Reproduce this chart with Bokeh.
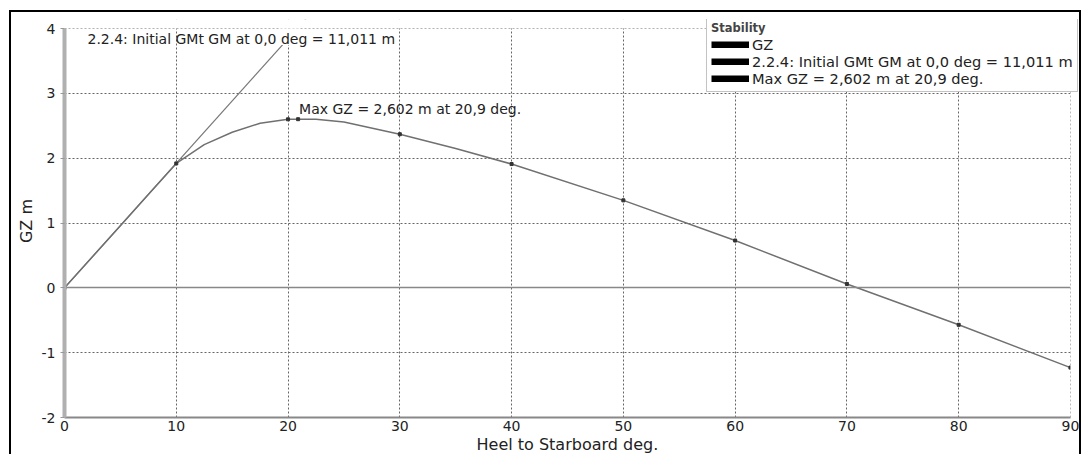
from bokeh.plotting import figure
from bokeh.models import FixedTicker, Legend, LegendItem, Label
from bokeh.embed import file_html
from bokeh.resources import INLINE

# ---- data ----
heel = [0, 5, 7.5, 10, 12.5, 15, 17.5, 20, 20.9, 22.5, 25, 30, 35, 40, 50, 60, 70, 80, 90]
gz = [0.0, 0.96, 1.44, 1.92, 2.21, 2.40, 2.54, 2.60, 2.602, 2.60, 2.56, 2.37, 2.15,
      1.91, 1.35, 0.73, 0.06, -0.57, -1.23]
mark_heel = [0, 10, 20, 20.9, 30, 40, 50, 60, 70, 80, 90]
gm_value = 11.011          # initial GM, m
gm_heel = [0, 57.3]        # 1 radian
gm_gz = [0, gm_value]
max_heel = 20.9
max_gz = 2.602
x_ticks = [0, 10, 20, 30, 40, 50, 60, 70, 80, 90]
y_ticks = [-2, -1, 0, 1, 2, 3, 4]
x_title = "Heel to Starboard   deg."
y_title = "GZ  m"
legend_title = "Stability"
legend_labels = ["GZ", "2.2.4: Initial GMt GM at 0,0 deg = 11,011 m",
                 "Max GZ = 2,602 m at 20,9 deg."]

FONT = "DejaVu Sans"
TXT = "#222222"
X0, X_MAX = x_ticks[0], x_ticks[-1]
Y0, Y_MAX = y_ticks[0], y_ticks[-1]
X_END, Y_END = 90.9, 4.14   # frame slightly larger so the legend can overhang the axes box

p = figure(width=1068, height=442, x_range=(X0, X_END), y_range=(Y0, Y_END),
           output_backend="svg", toolbar_location=None,
           min_border_left=53, min_border_right=3, min_border_top=7,
           min_border_bottom=39,
           styles={"margin-left": "9px", "margin-top": "10px",
                   "border-top": "2px solid black", "border-left": "2px solid black",
                   "border-right": "2px solid black", "box-sizing": "content-box"})
p.outline_line_color = None
p.background_fill_color = "white"
p.border_fill_color = "white"

# grid
for g in (p.xgrid, p.ygrid):
    g.grid_line_color = "#666666"
    g.grid_line_dash = "2 2"
    g.grid_line_width = 1
p.xgrid.ticker = FixedTicker(ticks=x_ticks)
p.ygrid.ticker = FixedTicker(ticks=y_ticks)

# axes
p.xaxis.ticker = FixedTicker(ticks=x_ticks)
p.yaxis.ticker = FixedTicker(ticks=y_ticks)
p.xaxis.bounds = (X0, X_MAX)
p.yaxis.bounds = (Y0, Y_MAX)
p.yaxis.major_label_overrides = {t: str(t) for t in y_ticks}
p.xaxis.axis_label = x_title
p.yaxis.axis_label = y_title
for ax in (p.xaxis, p.yaxis):
    ax.major_label_text_font = FONT
    ax.major_label_text_font_size = "14px"
    ax.major_label_text_color = TXT
    ax.axis_label_text_font = FONT
    ax.axis_label_text_font_size = "16px"
    ax.axis_label_text_font_style = "normal"
    ax.axis_label_text_color = TXT
    ax.minor_tick_line_color = None
p.yaxis.axis_line_color = "#b0b0b0"
p.yaxis.axis_line_width = 4
p.yaxis.major_tick_line_color = "#999999"
p.yaxis.major_tick_out = 4
p.yaxis.major_tick_in = 0
p.yaxis.major_label_standoff = 5
p.yaxis.axis_label_standoff = 3
p.xaxis.axis_line_color = "#888888"
p.xaxis.axis_line_width = 2
p.xaxis.major_tick_out = 0
p.xaxis.major_tick_in = 0
p.xaxis.major_label_standoff = 3
p.xaxis.axis_label_standoff = 1

# GM line and GZ curve
p.line(gm_heel, gm_gz, line_color="#777777", line_width=1.2)
p.line(heel, gz, line_color="#707070", line_width=1.5)
mk_y = [gz[heel.index(h)] for h in mark_heel]
p.scatter(mark_heel, mk_y, marker="square", size=3, fill_color="#333333", line_color="#333333")

# zero line
p.hspan(y=[0], line_color="#888888", line_width=1.5)

# white masks outside the 0..90 / -2..4 box (drawn over grid and lines)
p.quad(left=[X0 - 1], right=[X_END + 1], bottom=[Y_MAX], top=[Y_END + 1],
       fill_color="white", line_color=None)
p.quad(left=[X_MAX], right=[X_END + 1], bottom=[Y0 - 1], top=[Y_END + 1],
       fill_color="white", line_color=None)
# small white patch where the GM line meets the annotation text
p.quad(left=[19.2], right=[21.0], bottom=[3.745], top=[Y_MAX],
       fill_color="white", line_color=None)

# annotations
p.add_layout(Label(x=X0, y=Y_MAX, x_offset=23, y_offset=-2, text=legend_labels[1],
                   text_font=FONT, text_font_size="14px", text_color=TXT,
                   text_baseline="top"))
p.add_layout(Label(x=max_heel, y=max_gz, x_offset=1, y_offset=2, text=legend_labels[2],
                   text_font=FONT, text_font_size="14px", text_color=TXT,
                   text_baseline="bottom"))

# legend with black bars (hidden proxy renderers give the legend glyphs)
proxies = []
for _ in legend_labels:
    r = p.line(heel, gz, line_color="black", line_width=7, line_cap="butt")
    r.visible = False
    proxies.append(r)
legend = Legend(items=[LegendItem(label=l, renderers=[r]) for l, r in zip(legend_labels, proxies)],
                location=(642, 325), title=legend_title,
                title_text_font=FONT, title_text_font_size="11.5px", title_text_font_style="bold",
                title_standoff=1,
                label_text_font=FONT, label_text_font_size="14.6px", label_text_color=TXT,
                glyph_width=38, glyph_height=7, label_height=14, label_standoff=3,
                spacing=0, padding=4, margin=0,
                border_line_color="#888888", border_line_width=1,
                background_fill_color="white", background_fill_alpha=1)
p.add_layout(legend, "center")

open("out.html", "w").write(file_html(p, INLINE))
